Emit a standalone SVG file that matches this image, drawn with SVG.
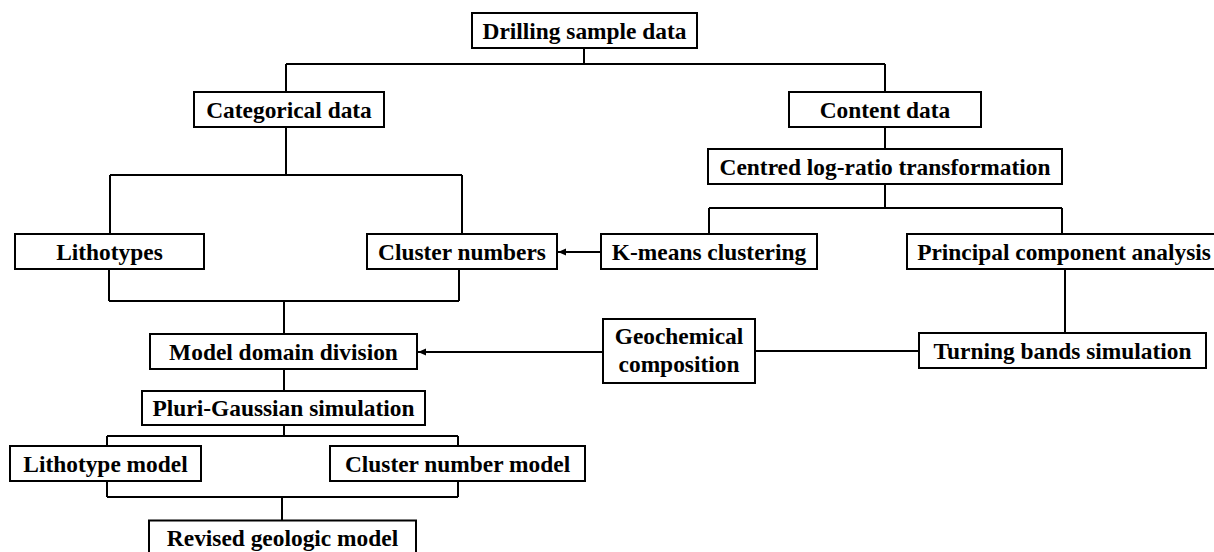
<svg xmlns="http://www.w3.org/2000/svg" width="1214" height="552" viewBox="0 0 1214 552">
<style>
.box{fill:#fff;stroke:#000;stroke-width:2}
.lbl{font-family:"Liberation Serif","Times New Roman",serif;font-weight:bold;font-size:23.4px;fill:#000;text-anchor:middle}
.con{fill:none;stroke:#000;stroke-width:2}
</style>
<defs>
<marker id="ah" markerUnits="userSpaceOnUse" markerWidth="9" markerHeight="8" refX="8" refY="4" orient="auto">
<path d="M0,0.5 L8,4 L0,7.5 Z" fill="#000"/>
</marker>
</defs>
<rect width="1214" height="552" fill="#fff"/>
<g id="connectors">
<path class="con" d="M584,48 V64 M286,64 H885 M286,64 V92 M885,64 V92"/>
<path class="con" d="M885,127 V149"/>
<path class="con" d="M286,127 V175 M110,175 H462 M110,175 V234 M462,175 V234"/>
<path class="con" d="M885,184 V208 M709,208 H1062 M709,208 V234 M1062,208 V234"/>
<path class="con" d="M601,252 H558" marker-end="url(#ah)"/>
<path class="con" d="M109,269 V301 M459,269 V301 M109,301 H459 M284,301 V334"/>
<path class="con" d="M1065,269 V333"/>
<path class="con" d="M919,351 H755"/>
<path class="con" d="M603,352 H418" marker-end="url(#ah)"/>
<path class="con" d="M284,369 V391"/>
<path class="con" d="M284,425 V436 M107,436 H458 M107,436 V446 M458,436 V446"/>
<path class="con" d="M107,481 V497 M458,481 V497 M107,497 H458 M282,497 V520"/>
</g>
<g id="n1"><rect class="box" x="472" y="13" width="225" height="35"/><text class="lbl" x="584.5" y="38.5">Drilling sample data</text></g>
<g id="n2"><rect class="box" x="194" y="92" width="190" height="35"/><text class="lbl" x="289" y="117.5">Categorical data</text></g>
<g id="n3"><rect class="box" x="789" y="92" width="192" height="35"/><text class="lbl" x="885" y="117.5">Content data</text></g>
<g id="n4"><rect class="box" x="708" y="149" width="354" height="35"/><text class="lbl" x="885" y="174.5">Centred log-ratio transformation</text></g>
<g id="n5"><rect class="box" x="15" y="234" width="189" height="35"/><text class="lbl" x="109.5" y="259.5">Lithotypes</text></g>
<g id="n6"><rect class="box" x="367" y="234" width="190" height="35"/><text class="lbl" x="462" y="259.5">Cluster numbers</text></g>
<g id="n7"><rect class="box" x="601" y="234" width="216" height="35"/><text class="lbl" x="709" y="259.5">K-means clustering</text></g>
<g id="n8"><rect class="box" x="907" y="234" width="312" height="35"/><text class="lbl" x="1064" y="259.5">Principal component analysis</text></g>
<g id="n9"><rect class="box" x="150" y="334" width="267" height="35"/><text class="lbl" x="283.5" y="359.5">Model domain division</text></g>
<g id="n10"><rect class="box" x="603" y="319" width="152" height="64"/><text class="lbl" x="679" y="344">Geochemical</text><text class="lbl" x="679" y="372">composition</text></g>
<g id="n11"><rect class="box" x="919" y="333" width="287" height="35"/><text class="lbl" x="1062.5" y="358.5">Turning bands simulation</text></g>
<g id="n12"><rect class="box" x="142" y="391" width="283" height="34"/><text class="lbl" x="283.5" y="416">Pluri-Gaussian simulation</text></g>
<g id="n13"><rect class="box" x="10" y="446" width="191" height="35"/><text class="lbl" x="105.5" y="471.5">Lithotype model</text></g>
<g id="n14"><rect class="box" x="330" y="446" width="255" height="35"/><text class="lbl" x="457.5" y="471.5">Cluster number model</text></g>
<g id="n15"><rect class="box" x="149" y="520.5" width="267" height="40"/><text class="lbl" x="282.5" y="545.5">Revised geologic model</text></g>
</svg>
